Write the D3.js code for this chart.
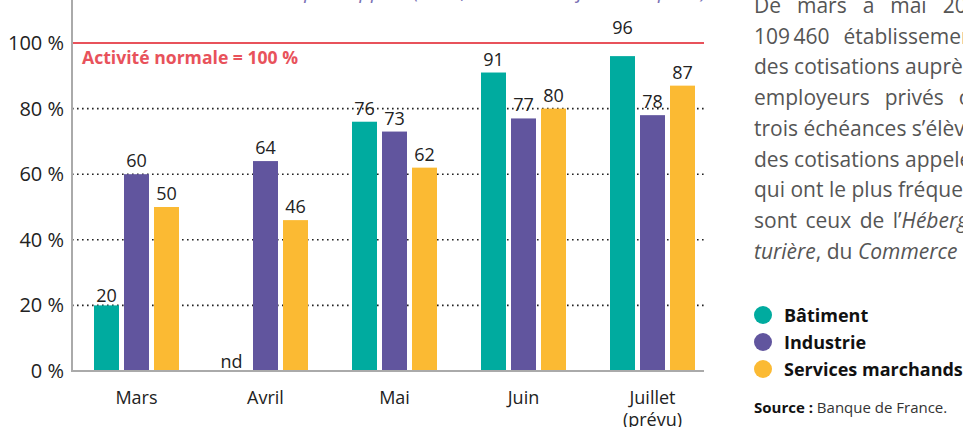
<!DOCTYPE html>
<html><head><meta charset="utf-8">
<script src="https://cdn.jsdelivr.net/npm/d3@7"></script>
<style>
html,body{margin:0;padding:0;background:#fff;overflow:hidden;}
svg{display:block;font-family:"Open Sans",sans-serif;}
</style></head>
<body>
<svg id="chart" width="963" height="427"></svg>
<script>
// ---- data ----
const months = ["Mars", "Avril", "Mai", "Juin", "Juillet"];
const monthSub = ["", "", "", "", "(prévu)"];
const series = ["Bâtiment", "Industrie", "Services marchands"];
const batiment = [20, null, 76, 91, 96];
const industrie = [60, 64, 73, 77, 78];
const services = [50, 46, 62, 80, 87];
const yTicks = [0, 20, 40, 60, 80, 100];
const colors = ["#00ab9f", "#61559e", "#fbba33"];
const normalLabel = "Activité normale = 100 %";
const subtitle = "Niveau d’activité par rapport (en %, avis des chefs d’entreprise)";
const paraLines = [
  ["De mars à mai 2020, les", 10.5],
  ["109\u2009460 établissements ayant", 8.5],
  ["des cotisations auprès des Urssaf", 0],
  ["employeurs privés ont", 9.5],
  ["trois échéances s’élèvent à", 0],
  ["des cotisations appelées. Les", 0],
  ["qui ont le plus fréquemment", 0],
  ["sont ceux de l’", 3, "Hébergement", "restauration"],
  ["", 0]
];
const sourceLabel = "Source :";
const sourceText = " Banque de France.";

// ---- layout ----
const svg = d3.select("#chart");
const left = 72, right = 704, top0 = 43, bottom = 371;
const y = d3.scaleLinear().domain([0, 100]).range([bottom, top0]);
const x0 = d3.scaleBand().domain(months).range([left, left + 129 * months.length]);
const x1 = d3.scaleBand().domain(series).range([22, 107]).paddingInner(1/6);

// subtitle (mostly cut off at top)
svg.append("text").attr("x", 155).attr("y", -2)
  .attr("font-size", 20).attr("font-style", "italic").attr("fill", "#7b72b5")
  .text(subtitle);

// gridlines
svg.append("g").selectAll("line").data(yTicks.filter(d => d > 0 && d < 100)).join("line")
  .attr("x1", left).attr("x2", right).attr("y1", d => y(d)).attr("y2", d => y(d))
  .attr("stroke", "#222").attr("stroke-width", 1.6).attr("stroke-dasharray", "1.6,3.4");

// y tick labels
svg.append("g").selectAll("text").data(yTicks).join("text")
  .attr("x", 64).attr("y", d => y(d) + 7).attr("text-anchor", "end")
  .attr("font-size", 20).attr("fill", "#222").text(d => d + " %");

// red 100% line
svg.append("line").attr("x1", left).attr("x2", right).attr("y1", y(100)).attr("y2", y(100))
  .attr("stroke", "#e8525b").attr("stroke-width", 2);
svg.append("text").attr("x", 82).attr("y", y(100) + 21)
  .attr("font-size", 17.6).attr("font-weight", "bold").attr("fill", "#e8525b").text(normalLabel);

// bars
const rows = months.map((m, i) => ({ m, vals: [batiment[i], industrie[i], services[i]] }));
const g = svg.append("g");
const groups = g.selectAll("g").data(rows).join("g")
  .attr("transform", d => `translate(${x0(d.m)},0)`);
const cells = d => d.vals.map((v, k) => ({ v, k, s: series[k] }));
groups.selectAll("rect").data(d => cells(d).filter(c => c.v != null)).join("rect")
  .attr("x", c => x1(c.s)).attr("width", x1.bandwidth())
  .attr("y", c => y(c.v)).attr("height", c => bottom - y(c.v))
  .attr("fill", c => colors[c.k]);
groups.selectAll("text.lbl").data(d => cells(d)).join("text").attr("class", "lbl")
  .attr("x", c => x1(c.s) + x1.bandwidth() / 2 - (c.v == null ? 4 : 0))
  .attr("y", c => {
    if (c.v == null) return bottom - 3;
    let b = y(c.v) - 7;
    if (c.v <= 20) b = y(c.v) - 3;
    if (b - 14 < y(100) && b + 2 > y(100)) b = y(100) - 9;
    return b;
  })
  .attr("text-anchor", "middle").attr("font-size", 18).attr("fill", "#222")
  .text(c => c.v == null ? "nd" : c.v);

// axes lines
svg.append("line").attr("x1", left).attr("x2", left).attr("y1", 0).attr("y2", bottom + 1)
  .attr("stroke", "#aaa").attr("stroke-width", 2);
svg.append("line").attr("x1", left).attr("x2", right).attr("y1", bottom).attr("y2", bottom)
  .attr("stroke", "#aaa").attr("stroke-width", 2);

// x category labels
const xl = svg.append("g").selectAll("text").data(months).join("text")
  .attr("x", d => x0(d) + 64.5).attr("y", 404).attr("text-anchor", "middle")
  .attr("font-size", 18).attr("fill", "#222");
xl.append("tspan").text(d => d);
xl.append("tspan").attr("x", d => x0(d) + 64.5).attr("dy", 22)
  .text((d, i) => monthSub[i]);

// paragraph
const para = svg.append("g").attr("fill", "#555").attr("font-size", 21);
paraLines.forEach((ln, i) => {
  const t = para.append("text").attr("x", 754).attr("y", 13 + i * 30.7)
    .attr("word-spacing", ln[1]);
  if (i === 7) {
    t.append("tspan").text(ln[0]);
    t.append("tspan").attr("font-style", "italic").text(ln[2]);
  } else if (i === 8) {
    t.append("tspan").attr("font-style", "italic").text("turière");
    t.append("tspan").text(", du ");
    t.append("tspan").attr("font-style", "italic").text("Commerce");
  } else {
    t.text(ln[0]);
  }
});

// legend
const lg = svg.append("g").selectAll("g").data(series).join("g")
  .attr("transform", (d, i) => `translate(763,${315 + i * 27})`);
lg.append("circle").attr("r", 9).attr("fill", (d, i) => colors[i]);
lg.append("text").attr("x", 21).attr("y", 6.5).attr("font-size", 18)
  .attr("font-weight", "bold").attr("fill", "#111").text(d => d);

// source
const src = svg.append("text").attr("x", 754).attr("y", 413).attr("font-size", 15).attr("fill", "#333");
src.append("tspan").attr("font-weight", "bold").attr("fill", "#111").text(sourceLabel);
src.append("tspan").text(sourceText);
</script>
</body></html>
